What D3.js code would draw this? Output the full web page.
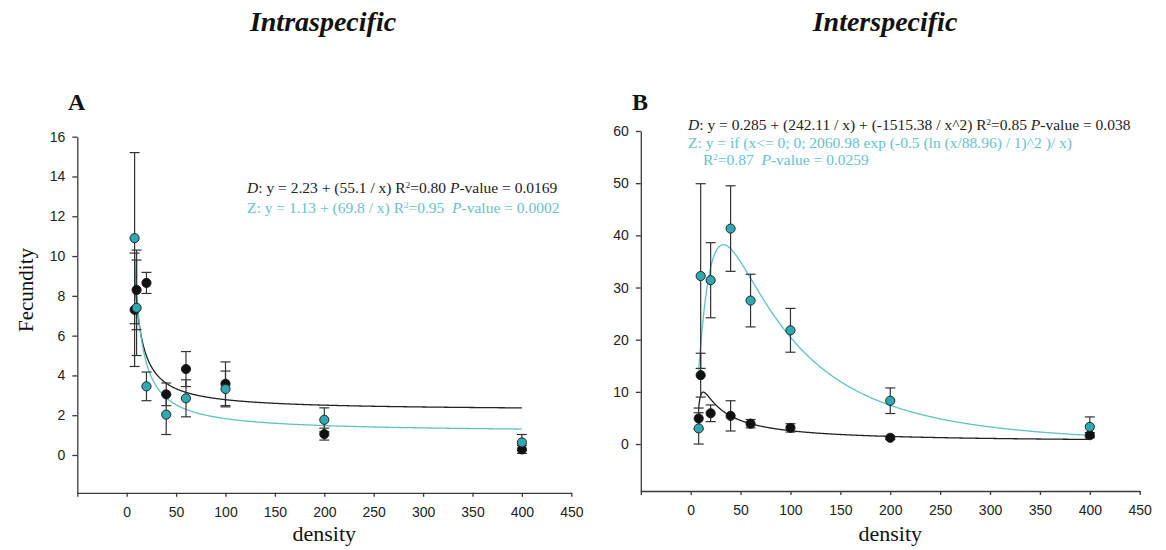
<!DOCTYPE html>
<html>
<head>
<meta charset="utf-8">
<script src="https://cdn.jsdelivr.net/npm/d3@7"></script>
<style>
  body { margin: 0; background: #fff; }
  text { font-family: "Liberation Serif", "Times New Roman", serif; }
  .tick text { font-family: "Liberation Sans", Arial, sans-serif; font-size: 14px; fill: #222; }
  .tick line, .domain { stroke: #3a3a3a; stroke-width: 1.3; }
</style>
</head>
<body>
<div id="chart"></div>
<script>
// densities (x) shared by both experiments
var densities = [8, 10, 20, 40, 60, 100, 200, 400];

// Panel A - intraspecific
var intraD = [7.3, 8.3, 8.65, 3.05, 4.32, 3.58, 1.05, 0.28];
var intraDErr = [2.85, 2.0, 0.53, 0.57, 0.88, 1.1, 0.3, 0.2];
var intraZ = [10.9, 7.4, 3.45, 2.03, 2.85, 3.32, 1.77, 0.63];
var intraZErr = [4.3, 2.4, 0.72, 1.0, 0.93, 0.9, 0.6, 0.4];

// Panel B - interspecific
var interD = [4.9, 13.2, 5.9, 5.4, 3.9, 3.1, 1.2, 1.7];
var interDErr = [2.0, 4.2, 1.6, 2.9, 0.8, 0.8, 0.3, 0.5];
var interZ = [3.0, 32.2, 31.4, 41.3, 27.5, 21.8, 8.3, 3.3];
var interZErr = [3.0, 17.7, 7.2, 8.2, 5.05, 4.2, 2.45, 1.9];

// fitted model coefficients (as printed on the chart)
var fitIntraD = [2.23, 55.1];
var fitIntraZ = [1.13, 69.8];
var fitInterD = [0.285, 242.11, -1515.38];
var fitInterZ = [2060.98, 88.96, 1];

var xTicks = [-50, 0, 50, 100, 150, 200, 250, 300, 350, 400, 450];
var yTicksA = [0, 2, 4, 6, 8, 10, 12, 14, 16];
var yTicksB = [0, 10, 20, 30, 40, 50, 60];

var black = "#111", teal = "#2fa8b0", tealLine = "#5ec2c7", tealText = "#64c3c9";

var svg = d3.select("#chart").append("svg")
    .attr("width", 1166)
    .attr("height", 550)
    .style("background", "#fff");

function hyper(c) { return function (x) { return c[0] + c[1] / x; }; }
function hyper2(c) { return function (x) { return c[0] + c[1] / x + c[2] / (x * x); }; }
function lognorm(c) {
    return function (x) {
        if (x <= 0) return 0;
        var l = Math.log(x / c[1]) / c[2];
        return c[0] * Math.exp(-0.5 * l * l) / x;
    };
}

function drawPanel(p) {
    var x = d3.scaleLinear().domain([-50, 450]).range(p.xRange);
    var y = d3.scaleLinear().domain(p.yDomain).range(p.yRange);

    svg.append("g")
        .attr("transform", "translate(0," + p.yRange[0] + ")")
        .call(d3.axisBottom(x).tickValues(xTicks).tickSize(4).tickPadding(10).tickSizeOuter(0)
            .tickFormat(function (d) { return d < 0 ? "" : d; }));

    svg.append("g")
        .attr("transform", "translate(" + p.xRange[0] + ",0)")
        .call(d3.axisLeft(y).tickValues(p.yTicks).tickSize(5).tickPadding(7).tickSizeOuter(0));

    // fitted curves
    var xs = d3.range(8, 400.5, 0.5);
    var line = d3.line().x(function (d) { return x(d[0]); }).y(function (d) { return y(d[1]); });
    p.fits.forEach(function (f) {
        svg.append("path")
            .datum(xs.map(function (v) { return [v, f.fn(v)]; }))
            .attr("d", line)
            .attr("fill", "none")
            .attr("stroke", f.color)
            .attr("stroke-width", 1.3);
    });

    // error bars then points
    p.series.forEach(function (s) {
        var g = svg.append("g").attr("stroke", "#333").attr("stroke-width", 1.2);
        densities.forEach(function (d, i) {
            var cx = x(d), lo = y(s.values[i] - s.err[i]), hi = y(s.values[i] + s.err[i]);
            g.append("line").attr("x1", cx).attr("x2", cx).attr("y1", lo).attr("y2", hi);
            g.append("line").attr("x1", cx - 5).attr("x2", cx + 5).attr("y1", lo).attr("y2", lo);
            g.append("line").attr("x1", cx - 5).attr("x2", cx + 5).attr("y1", hi).attr("y2", hi);
        });
    });
    p.series.forEach(function (s) {
        svg.append("g").selectAll("circle")
            .data(s.values)
            .enter().append("circle")
            .attr("cx", function (d, i) { return x(densities[i]); })
            .attr("cy", function (d) { return y(d); })
            .attr("r", 4.6)
            .attr("fill", s.color)
            .attr("stroke", "#1a1a1a")
            .attr("stroke-width", 0.9);
    });

    // axis title
    svg.append("text")
        .attr("x", (p.xRange[0] + p.xRange[1]) / 2)
        .attr("y", 541)
        .attr("text-anchor", "middle")
        .style("font-size", "22px")
        .attr("fill", "#111")
        .text("density");

    svg.append("text")
        .attr("x", p.letterX)
        .attr("y", 110)
        .style("font-size", "24px")
        .style("font-weight", "bold")
        .attr("fill", "#111")
        .text(p.letter);

    svg.append("text")
        .attr("x", p.titleX)
        .attr("y", 31)
        .attr("text-anchor", "middle")
        .style("font-size", "28px")
        .style("font-weight", "bold")
        .style("font-style", "italic")
        .attr("fill", "#111")
        .text(p.title);
}

// equation line builder: parts are [text, style] pairs
function eqLine(x0, y0, color, parts) {
    var t = svg.append("text").attr("x", x0).attr("y", y0)
        .attr("xml:space", "preserve")
        .style("white-space", "pre")
        .style("font-size", "15.5px").attr("fill", color);
    parts.forEach(function (pt) {
        var s = t.append("tspan").text(pt[0]);
        if (pt[1] === "i") s.style("font-style", "italic");
        if (pt[1] === "sup") s.attr("baseline-shift", "super").style("font-size", "9px");
    });
}

drawPanel({
    xRange: [77.3, 571.3], yDomain: [-1.9, 16], yRange: [492.8, 136.7], yTicks: yTicksA,
    letter: "A", letterX: 68, title: "Intraspecific", titleX: 323,
    fits: [{ fn: hyper(fitIntraD), color: "#222" }, { fn: hyper(fitIntraZ), color: tealLine }],
    series: [{ values: intraD, err: intraDErr, color: black }, { values: intraZ, err: intraZErr, color: teal }]
});

drawPanel({
    xRange: [640.8, 1139.7], yDomain: [-9, 60], yRange: [491, 131], yTicks: yTicksB,
    letter: "B", letterX: 632, title: "Interspecific", titleX: 885,
    fits: [{ fn: hyper2(fitInterD), color: "#222" }, { fn: lognorm(fitInterZ), color: tealLine }],
    series: [{ values: interD, err: interDErr, color: black }, { values: interZ, err: interZErr, color: teal }]
});

svg.append("text")
    .attr("transform", "translate(33,290) rotate(-90)")
    .attr("text-anchor", "middle")
    .style("font-size", "21px")
    .attr("fill", "#111")
    .text("Fecundity");

eqLine(247, 193, "#222", [["D", "i"], [": y = 2.23 + (55.1 / x) R"], ["2", "sup"], ["=0.80 "], ["P", "i"], ["-value = 0.0169"]]);
eqLine(247, 213, tealText, [["Z: y = 1.13 + (69.8 / x) R"], ["2", "sup"], ["=0.95  "], ["P", "i"], ["-value = 0.0002"]]);

eqLine(688, 130, "#222", [["D", "i"], [": y = 0.285 + (242.11 / x) + (-1515.38 / x^2) R"], ["2", "sup"], ["=0.85 "], ["P", "i"], ["-value = 0.038"]]);
eqLine(688, 148, tealText, [["Z: y = if (x<= 0; 0; 2060.98 exp (-0.5 (ln (x/88.96) / 1)^2 )/ x)"]]);
eqLine(703, 165, tealText, [["R"], ["2", "sup"], ["=0.87  "], ["P", "i"], ["-value = 0.0259"]]);
</script>
</body>
</html>
